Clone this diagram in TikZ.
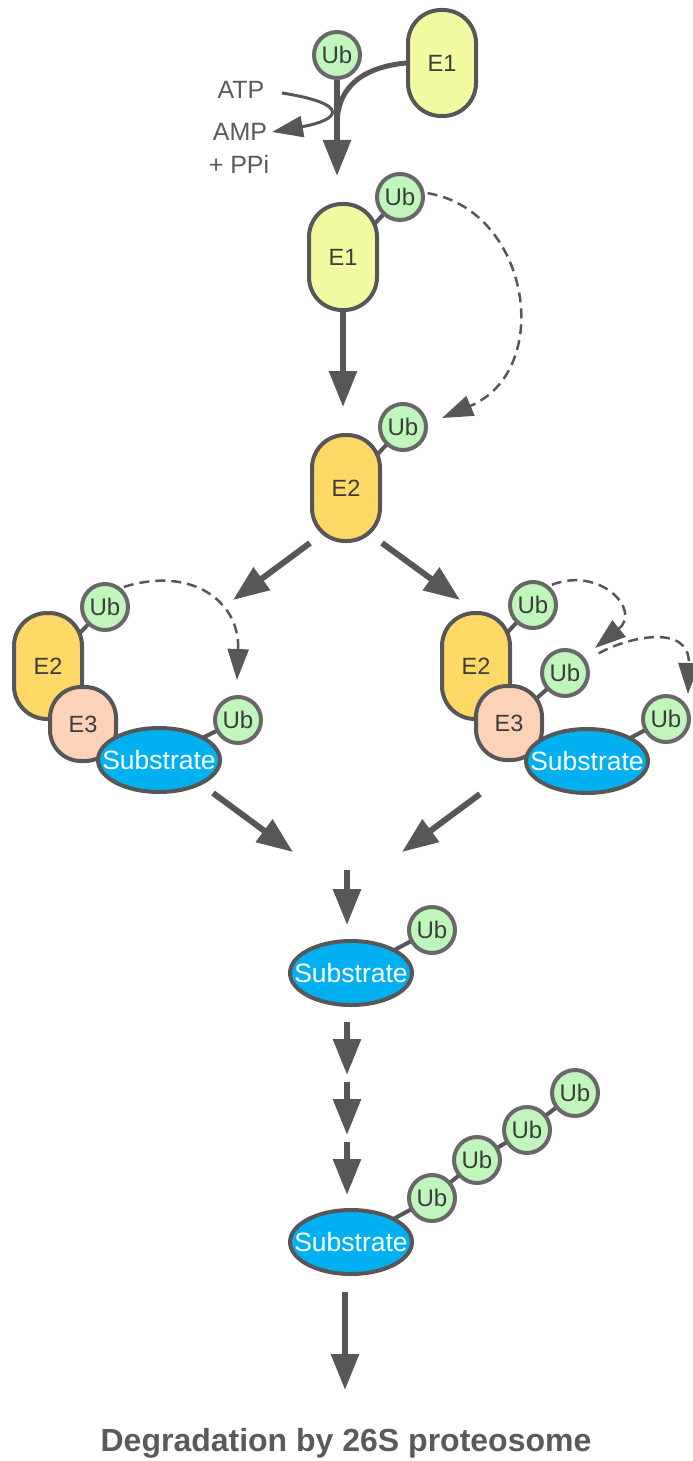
\documentclass[tikz,border=0pt]{standalone}
\usepackage{fontspec}
\setmainfont{Liberation Sans}
\usetikzlibrary{arrows.meta,shapes.geometric}
\pgfdeclarelayer{bg}
\pgfsetlayers{bg,main}
\definecolor{lc}{HTML}{575757}
\definecolor{ubd}{HTML}{686868}
\definecolor{tc}{HTML}{3C3C3C}
\definecolor{lbl}{HTML}{5A5A5A}
\definecolor{eone}{HTML}{F3FBA2}
\definecolor{etwo}{HTML}{FFD966}
\definecolor{ethree}{HTML}{FCD3B9}
\definecolor{ubc}{HTML}{C0F6BB}
\definecolor{subc}{HTML}{00B0F0}
\tikzset{
  enzyme/.style={draw=lc, line width=4pt, rounded corners=33pt, minimum width=68pt, minimum height=106pt, inner sep=0pt, text=tc, font=\fontsize{23.5}{23.5}\selectfont},
  ethreebox/.style={draw=lc, line width=4pt, rounded corners=31pt, fill=ethree, minimum width=66pt, minimum height=74pt, inner sep=0pt, text=tc, font=\fontsize{23.5}{23.5}\selectfont},
  ubn/.style={circle, draw=ubd, fill=ubc, line width=4pt, minimum size=46pt, inner sep=0pt, text=tc, font=\fontsize{24}{24}\selectfont},
  subtext/.style={text=white, font=\fontsize{26.5}{26.5}\selectfont, inner sep=0pt},
  subs/.style={ellipse, draw=lc, fill=subc, line width=4pt, minimum width=122pt, minimum height=64pt, inner sep=0pt, label={[subtext]center:Substrate}},
  link/.style={draw=lc, line width=4pt},
  flow/.style={draw=lc, line width=6pt, -{Triangle[width=27pt,length=36pt]}},
  dflow/.style={draw=lc, line width=2.5pt, dash pattern=on 10pt off 6pt, -{Triangle[width=21pt,length=31pt]}},
  thinflow/.style={draw=lc, line width=3pt, -{Triangle[width=21pt,length=31pt]}},
  lab/.style={text=lbl, font=\fontsize{25}{25}\selectfont, inner sep=0pt}
}
\begin{document}
\begin{tikzpicture}[x=1pt,y=-1pt]
\useasboundingbox (0,0) rectangle (693,1461);
% ---- top ----
\node[ubn] (Ub0) at (337,55) {Ub};
\node[enzyme, fill=eone] (E1a) at (442,63) {E1};
\coordinate (j1) at (337,125);
\coordinate (t1) at (337,176);
\node[lab] (atp) at (241,90) {ATP};
\node[lab] (amp) at (240,132) {AMP};
\node[lab] (ppi) at (239,164) {+ PPi};
\coordinate (atpS) at (282,93);
\coordinate (atpE) at (272,132);
\draw[link, line width=5pt] (E1a.west) .. controls (365,67) and (337,85) .. (j1);
\draw[flow] (Ub0.south) -- (t1);
\draw[thinflow] (atpS) .. controls (352,104) and (340,120) .. (atpE);
% ---- E1~Ub ----
\node[enzyme, fill=eone] (E1b) at (343,257) {E1};
\node[ubn] (Ub1) at (400,197) {Ub};
\begin{pgfonlayer}{bg}\draw[link] (E1b.center) -- (Ub1.center);\end{pgfonlayer}
\coordinate (t2) at (343,407);
\coordinate (d1) at (442,418);
\draw[flow] (E1b.south) -- (t2);
\draw[dflow, shorten <=3pt] (Ub1.10) .. controls (530,210) and (555,370) .. (d1);
% ---- E2~Ub ----
\node[enzyme, fill=etwo] (E2m) at (346,488) {E2};
\node[ubn] (Ub2) at (403,427) {Ub};
\begin{pgfonlayer}{bg}\draw[link] (E2m.center) -- (Ub2.center);\end{pgfonlayer}
\coordinate (tl) at (233,600);
\coordinate (tr) at (460,600);
\draw[flow] (E2m.south west) -- (tl);
\draw[flow] (E2m.south east) -- (tr);
% ---- left cluster ----
\node[enzyme, fill=etwo] (E2L) at (48,666) {E2};
\node[ubn] (UbL1) at (105,607) {Ub};
\node[ethreebox] (E3L) at (83,724) {E3};
\node[subs] (SubL) at (159,760) {};
\node[ubn] (UbL2) at (238,720) {Ub};
\begin{pgfonlayer}{bg}
\draw[link] (E2L.center) -- (UbL1.center);
\draw[link] (SubL.center) -- (UbL2.center);
\end{pgfonlayer}
\coordinate (dl) at (237,680);
\draw[dflow, shorten <=3pt] (UbL1.50) .. controls (190,566) and (240,600) .. (dl);
% ---- right cluster ----
\node[enzyme, fill=etwo] (E2R) at (476,666) {E2};
\node[ubn] (UbR1) at (533,605) {Ub};
\node[ethreebox] (E3R) at (509,723) {E3};
\node[ubn] (UbR2) at (565,673) {Ub};
\node[subs] (SubR) at (587,761) {};
\node[ubn] (UbR3) at (666,719) {Ub};
\begin{pgfonlayer}{bg}
\draw[link] (E2R.center) -- (UbR1.center);
\draw[link] (E3R.center) -- (UbR2.center);
\draw[link] (SubR.center) -- (UbR3.center);
\end{pgfonlayer}
\coordinate (dr1) at (595,648);
\coordinate (dr2) at (688,694);
\draw[dflow, shorten <=3pt] (UbR1.50) .. controls (600,566) and (642,610) .. (dr1);
\draw[dflow, shorten <=14pt] (UbR2.30) .. controls (625,638) and (690,622) .. (dr2);
% ---- merge ----
\coordinate (m1s) at (213,793);
\coordinate (m1) at (293,852);
\coordinate (m2s) at (480,794);
\coordinate (m2) at (402,852);
\draw[flow] (m1s) -- (m1);
\draw[flow] (m2s) -- (m2);
\coordinate (m3s) at (347,870);
\coordinate (m3) at (347,925);
\draw[flow] (m3s) -- (m3);
% ---- mono-ubiquitinated substrate ----
\node[subs] (SubM) at (351,973) {};
\node[ubn] (UbM) at (432,930) {Ub};
\begin{pgfonlayer}{bg}\draw[link] (SubM.center) -- (UbM.center);\end{pgfonlayer}
\coordinate (a1s) at (347,1022);
\coordinate (a1) at (347,1075);
\coordinate (a2s) at (347,1082);
\coordinate (a2) at (347,1135);
\coordinate (a3s) at (347,1142);
\coordinate (a3) at (347,1195);
\draw[flow] (a1s) -- (a1);
\draw[flow] (a2s) -- (a2);
\draw[flow] (a3s) -- (a3);
% ---- poly-ubiquitinated substrate ----
\node[subs] (SubB) at (351,1242) {};
\node[ubn] (UbB1) at (432,1198) {Ub};
\node[ubn] (UbB2) at (477,1160) {Ub};
\node[ubn] (UbB3) at (527,1130) {Ub};
\node[ubn] (UbB4) at (575,1093) {Ub};
\begin{pgfonlayer}{bg}
\draw[link] (SubB.center) -- (UbB1.center) -- (UbB2.center) -- (UbB3.center) -- (UbB4.center);
\end{pgfonlayer}
\coordinate (fs) at (345,1292);
\coordinate (fe) at (345,1390);
\draw[flow] (fs) -- (fe);
\node[text=lbl, font=\bfseries\fontsize{32}{32}\selectfont, inner sep=0pt] (deg) at (346,1443) {Degradation by 26S proteosome};
\end{tikzpicture}
\end{document}
